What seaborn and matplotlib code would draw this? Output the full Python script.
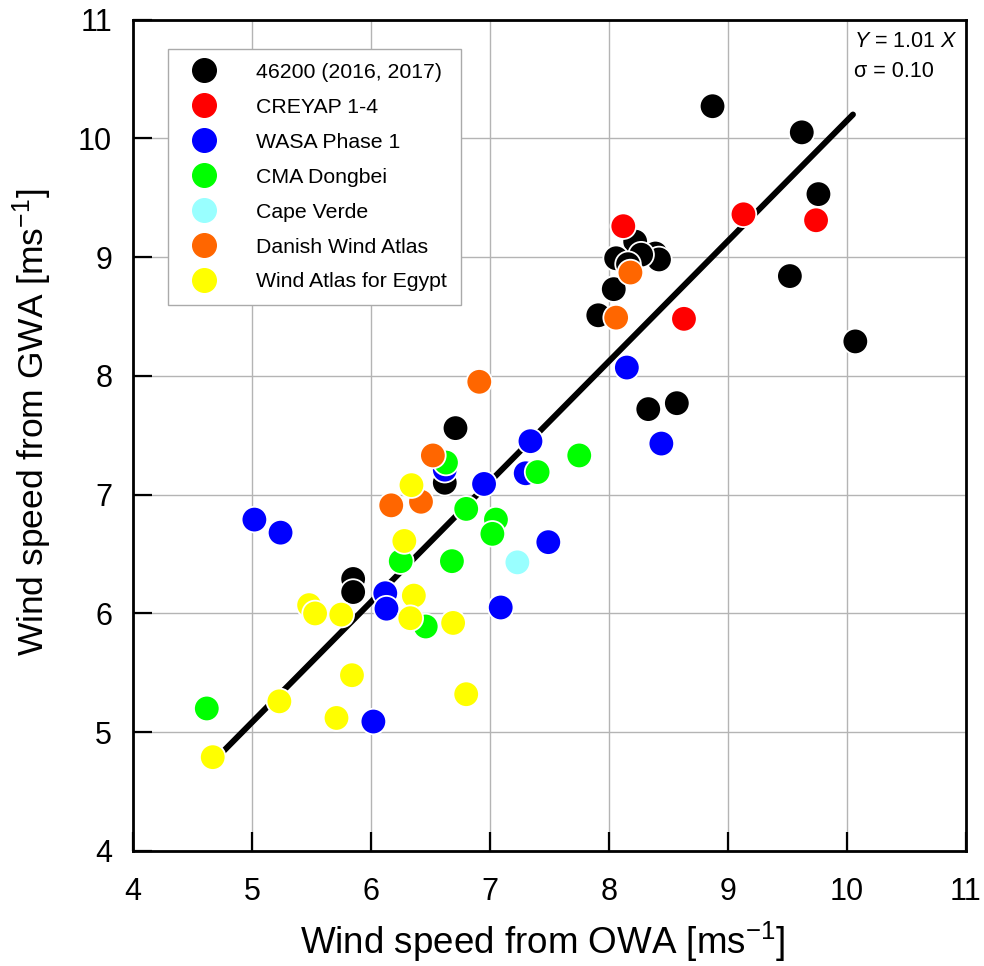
import numpy as np
import pandas as pd
import matplotlib
matplotlib.use("Agg")
import matplotlib.pyplot as plt
import seaborn as sns
from matplotlib.lines import Line2D

# ---- data ----
groups = ["46200 (2016, 2017)", "CREYAP 1-4", "WASA Phase 1", "CMA Dongbei",
          "Cape Verde", "Danish Wind Atlas", "Wind Atlas for Egypt"]
colors = ["#000000", "#ff0000", "#0000ff", "#00ff00", "#99ffff", "#ff6600", "#ffff00"]

black_x = [8.87, 9.62, 9.76, 9.52, 10.07, 8.33, 8.57, 8.22, 8.06, 8.39, 8.42, 8.27, 8.16, 8.04, 7.91, 6.71, 6.62, 5.85, 5.85]
black_y = [10.27, 10.05, 9.53, 8.84, 8.29, 7.72, 7.77, 9.13, 8.99, 9.03, 8.98, 9.02, 8.94, 8.73, 8.51, 7.56, 7.10, 6.29, 6.18]
red_x = [9.13, 9.74, 8.12, 8.63]
red_y = [9.36, 9.31, 9.26, 8.48]
blue_x = [8.15, 8.44, 7.34, 7.30, 6.95, 6.62, 7.49, 7.09, 5.02, 5.24, 6.12, 6.13, 6.02]
blue_y = [8.07, 7.43, 7.45, 7.18, 7.09, 7.21, 6.60, 6.05, 6.79, 6.68, 6.17, 6.04, 5.09]
green_x = [6.63, 7.40, 7.75, 6.80, 7.05, 7.02, 6.68, 6.25, 6.46, 4.62]
green_y = [7.27, 7.19, 7.33, 6.88, 6.79, 6.67, 6.44, 6.44, 5.89, 5.20]
cyan_x = [7.23]
cyan_y = [6.43]
orange_x = [8.18, 8.06, 6.91, 6.52, 6.17, 6.42]
orange_y = [8.87, 8.49, 7.95, 7.33, 6.91, 6.94]
yellow_x = [6.34, 6.28, 6.36, 6.33, 6.69, 5.48, 5.53, 5.75, 5.84, 5.23, 5.71, 6.80, 4.67]
yellow_y = [7.08, 6.61, 6.15, 5.96, 5.92, 6.07, 6.00, 5.99, 5.48, 5.26, 5.12, 5.32, 4.79]

# regression line (Y = 1.01 X), drawn endpoints
fit_x = [4.72, 10.05]
fit_y = [4.80, 10.20]
fit_label = r"$Y$ = 1.01 $X$"
sigma_label = "σ = 0.10"

ticks = [4, 5, 6, 7, 8, 9, 10, 11]

xs = [black_x, red_x, blue_x, green_x, cyan_x, orange_x, yellow_x]
ys = [black_y, red_y, blue_y, green_y, cyan_y, orange_y, yellow_y]
frames = []
for g, x, y in zip(groups, xs, ys):
    frames.append(pd.DataFrame({"OWA": x, "GWA": y, "source": g}))
df = pd.concat(frames, ignore_index=True)

# ---- style ----
sns.set_style("white")
plt.rcParams["font.family"] = ["Liberation Sans", "DejaVu Sans"]
plt.rcParams["mathtext.fontset"] = "custom"
plt.rcParams["mathtext.rm"] = "Liberation Sans"
plt.rcParams["mathtext.it"] = "Liberation Sans:italic"
plt.rcParams["text.color"] = "black"
plt.rcParams["axes.labelcolor"] = "black"
plt.rcParams["xtick.color"] = "black"
plt.rcParams["ytick.color"] = "black"

fig = plt.figure(figsize=(9.84, 9.66), dpi=100)
ax = fig.add_axes([133 / 984, 1 - 851 / 966, (966 - 133) / 984, (851 - 19.5) / 966])

ax.grid(True, color="#b4b4b4", linewidth=1.0, zorder=0)
ax.set_axisbelow(True)

ax.plot(fit_x, fit_y, color="black", linewidth=4.3, solid_capstyle="round", zorder=2)

sns.scatterplot(data=df, x="OWA", y="GWA", hue="source", hue_order=groups,
                palette=colors, s=340, edgecolor="white", linewidth=1.3,
                legend=False, ax=ax, zorder=3)

ax.set_xlim(4, 11)
ax.set_ylim(4, 11)
ax.set_xticks(ticks)
ax.set_yticks(ticks)
ax.set_xticklabels([str(t) for t in ticks])
ax.set_yticklabels([str(t) for t in ticks])
ax.tick_params(axis="both", direction="in", length=14, width=1.6, labelsize=22,
               colors="black", bottom=True, left=True, top=False, right=False)
ax.tick_params(axis="x", pad=19)
ax.tick_params(axis="y", pad=15)
for sp in ax.spines.values():
    sp.set_visible(True)
    sp.set_color("black")
    sp.set_linewidth(2.0)

ax.set_xlabel(r"Wind speed from OWA [ms$^{-1}$]", fontsize=26.5)
ax.set_ylabel(r"Wind speed from GWA [ms$^{-1}$]", fontsize=25.5)
ax.xaxis.set_label_coords(0.4916, -0.083)
ax.yaxis.set_label_coords(-0.095, 0.516)

handles = [Line2D([0], [0], marker="o", linestyle="none", markersize=17,
                  markerfacecolor=c, markeredgecolor=c) for c in colors]
leg = ax.legend(handles, groups, loc="upper left", bbox_to_anchor=(0.042, 0.9645),
                borderaxespad=0, fontsize=15.3, frameon=True, fancybox=False,
                edgecolor="#aaaaaa", framealpha=1, labelspacing=0.75,
                handlelength=2.1, handletextpad=1.4, borderpad=0.65)
leg.get_frame().set_linewidth(1.0)

ax.text(0.866, 0.973, fit_label, transform=ax.transAxes, fontsize=15.5,
        ha="left", va="center")
ax.text(0.866, 0.937, sigma_label, transform=ax.transAxes, fontsize=15.5,
        ha="left", va="center")

fig.savefig("out.png", dpi=100)
